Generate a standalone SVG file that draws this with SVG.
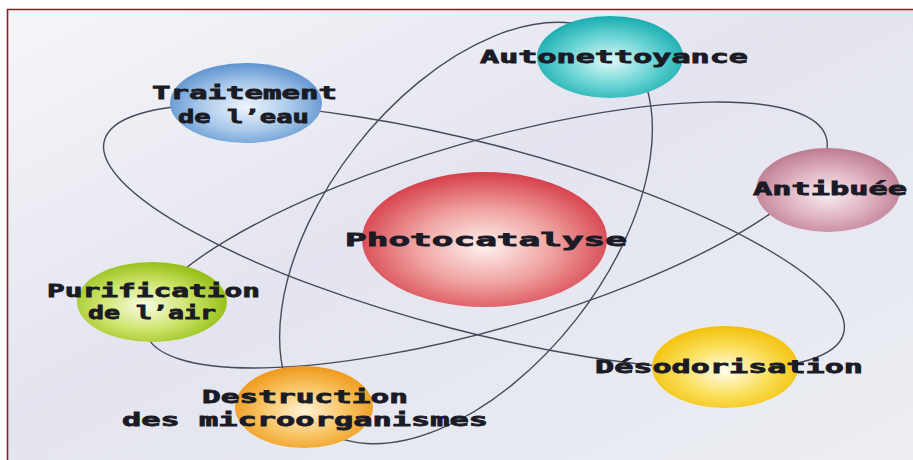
<svg xmlns="http://www.w3.org/2000/svg" width="913" height="460" viewBox="0 0 913 460">
<defs>
<style>
.orbit{fill:none;stroke:#474a5c;stroke-width:1.4}
.lbl{font-family:"DejaVu Sans Mono","Liberation Mono",monospace;font-weight:bold;font-size:18px;fill:#1b1b26;stroke:#1b1b26;stroke-width:0.8}
</style>
<linearGradient id="bg" x1="0" y1="0" x2="1" y2="1">
<stop offset="0" stop-color="#f6f6f9"/>
<stop offset="0.45" stop-color="#e3e4ef"/>
<stop offset="1" stop-color="#eceef3"/>
</linearGradient>
<radialGradient id="gBlue" cx="0.5" cy="0.55" r="0.55"><stop offset="0" stop-color="#eef5fc"/><stop offset="0.55" stop-color="#a8c8ea"/><stop offset="1" stop-color="#5e93cf"/></radialGradient>
<radialGradient id="gTeal" cx="0.5" cy="0.55" r="0.55"><stop offset="0" stop-color="#e0f8f8"/><stop offset="0.55" stop-color="#6ad4d4"/><stop offset="1" stop-color="#18acb0"/></radialGradient>
<radialGradient id="gPink" cx="0.5" cy="0.55" r="0.55"><stop offset="0" stop-color="#f8edf1"/><stop offset="0.55" stop-color="#deb0bf"/><stop offset="1" stop-color="#bd7b92"/></radialGradient>
<radialGradient id="gRed" cx="0.5" cy="0.55" r="0.55"><stop offset="0" stop-color="#fdf1ef"/><stop offset="0.5" stop-color="#f0a4a2"/><stop offset="1" stop-color="#d63e4a"/></radialGradient>
<radialGradient id="gGreen" cx="0.45" cy="0.55" r="0.55"><stop offset="0" stop-color="#f8fce6"/><stop offset="0.55" stop-color="#cde46a"/><stop offset="1" stop-color="#98c01a"/></radialGradient>
<radialGradient id="gOrange" cx="0.5" cy="0.55" r="0.55"><stop offset="0" stop-color="#fff2d8"/><stop offset="0.55" stop-color="#f8c462"/><stop offset="1" stop-color="#ee981a"/></radialGradient>
<radialGradient id="gYellow" cx="0.5" cy="0.55" r="0.55"><stop offset="0" stop-color="#fffcee"/><stop offset="0.55" stop-color="#fadf5a"/><stop offset="1" stop-color="#f2c00a"/></radialGradient>
</defs>
<rect x="0" y="0" width="913" height="460" fill="#ffffff"/>
<rect x="7.5" y="9.5" width="906" height="451" fill="url(#bg)"/>
<path d="M7.5 460 V9.5 H913" fill="none" stroke="#8a1f22" stroke-width="1.6"/>
<g id="connectors">
<ellipse class="orbit" cx="466" cy="233" rx="244" ry="140" transform="rotate(-52 466 233)"/>
<ellipse class="orbit" cx="474" cy="237" rx="382" ry="94" transform="rotate(14.6 474 237)"/>
<ellipse class="orbit" cx="486" cy="235" rx="354" ry="94" transform="rotate(-16 486 235)"/>
</g>
<g id="traitement">
<ellipse cx="246" cy="103" rx="76" ry="40" fill="url(#gBlue)"/>
<text class="lbl" x="152" y="99" textLength="185" lengthAdjust="spacingAndGlyphs">Traitement</text>
<text class="lbl" x="178" y="122.5" textLength="131" lengthAdjust="spacingAndGlyphs">de l’eau</text>
</g>
<g id="autonettoyance">
<ellipse cx="610" cy="57" rx="73" ry="41" fill="url(#gTeal)"/>
<text class="lbl" x="480" y="63" textLength="268" lengthAdjust="spacingAndGlyphs">Autonettoyance</text>
</g>
<g id="antibuee">
<ellipse cx="828" cy="190" rx="72" ry="42" fill="url(#gPink)"/>
<text class="lbl" x="753" y="195" textLength="154" lengthAdjust="spacingAndGlyphs">Antibuée</text>
</g>
<g id="photocatalyse">
<ellipse cx="484.5" cy="239.5" rx="122.5" ry="67.5" fill="url(#gRed)"/>
<text class="lbl" x="345" y="246" textLength="282" lengthAdjust="spacingAndGlyphs">Photocatalyse</text>
</g>
<g id="purification">
<ellipse cx="152" cy="302" rx="75" ry="40" fill="url(#gGreen)"/>
<text class="lbl" x="47" y="297" textLength="213" lengthAdjust="spacingAndGlyphs">Purification</text>
<text class="lbl" x="88" y="319" textLength="128" lengthAdjust="spacingAndGlyphs">de l’air</text>
</g>
<g id="destruction">
<ellipse cx="304" cy="407" rx="69" ry="41" fill="url(#gOrange)"/>
<text class="lbl" x="202" y="403" textLength="206" lengthAdjust="spacingAndGlyphs">Destruction</text>
<text class="lbl" x="122" y="426" textLength="366" lengthAdjust="spacingAndGlyphs">des microorganismes</text>
</g>
<g id="desodorisation">
<ellipse cx="725" cy="367" rx="73" ry="41" fill="url(#gYellow)"/>
<text class="lbl" x="595" y="373" textLength="268" lengthAdjust="spacingAndGlyphs">Désodorisation</text>
</g>
</svg>
